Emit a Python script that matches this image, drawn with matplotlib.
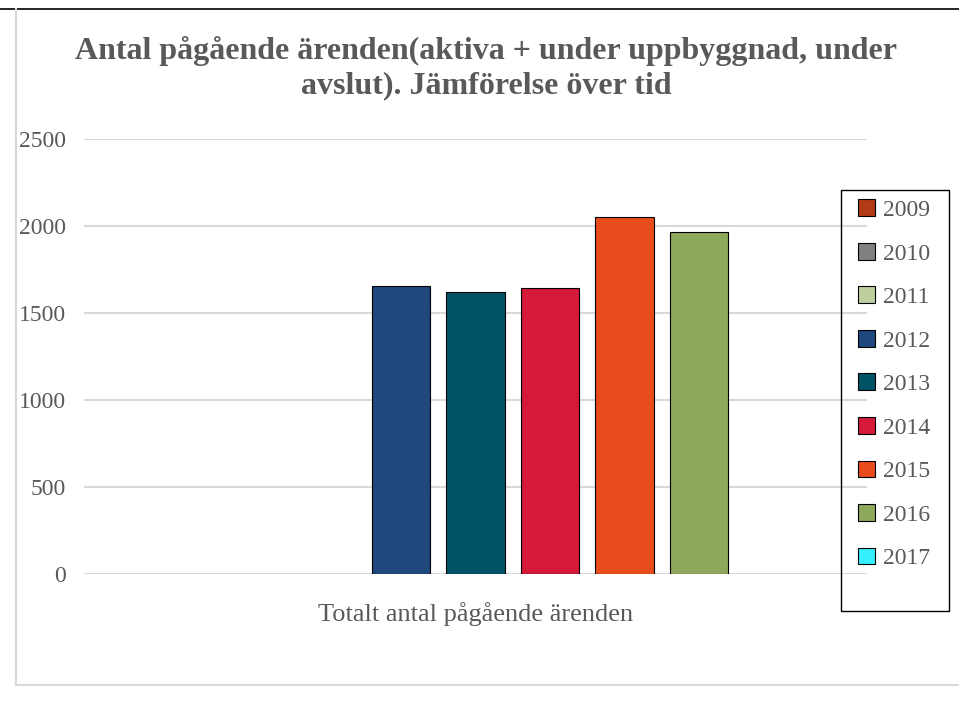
import matplotlib
matplotlib.use("Agg")
import matplotlib.pyplot as plt
from matplotlib.lines import Line2D
from matplotlib.patches import Patch, Rectangle
import numpy as np

# Data
years = ["2009", "2010", "2011", "2012", "2013", "2014", "2015", "2016", "2017"]
values = [0, 0, 0, 1657, 1622, 1644, 2051, 1967, 0]
colors = ["#B33A14", "#808080", "#BCCF9D", "#1F497D", "#005364",
          "#D41939", "#E84C1C", "#8EA95B", "#35EFFF"]
category = "Totalt antal pågående ärenden"
yticks = [0, 500, 1000, 1500, 2000, 2500]

TEXT = "#595959"
GRID = "#D9D9D9"
plt.rcParams["font.family"] = ["Liberation Serif", "DejaVu Serif"]

W, H = 959, 714
fig = plt.figure(figsize=(W / 100, H / 100), dpi=100)
ax = fig.add_axes([84 / W, 139.7 / H, 783 / W, 435.5 / H])

n = len(years)
offsets = np.arange(n) - (n - 1) / 2
for off, v, c, yr in zip(offsets, values, colors, years):
    ax.bar(off, v, width=0.79, color=c, edgecolor="black",
           linewidth=0.8 if v > 0 else 0, label=yr, zorder=3)

half = 783 / 74.5 / 2
ax.set_xlim(-half, half)
ax.set_ylim(0, 2500)
ax.set_yticks(yticks)
ax.set_yticklabels([str(t) for t in yticks], fontsize=17, color=TEXT)
ax.tick_params(axis="y", length=0, pad=13)
ax.set_xticks([0])
ax.set_xticklabels([category], fontsize=19, color=TEXT)
ax.tick_params(axis="x", length=0, pad=20)
ax.grid(axis="y", color=GRID, lw=1.5, zorder=0)
ax.set_axisbelow(True)
for s in ax.spines.values():
    s.set_visible(False)

# legend with patches so zero-valued years still show a swatch
handles = [Patch(facecolor=c, edgecolor="black", lw=0.8) for c in colors]
leg = fig.legend(handles, years, loc="upper left",
                 bbox_to_anchor=(849 / W, 1 - 190 / H),
                 fontsize=17, frameon=False,
                 handlelength=0.72, handleheight=0.72, handletextpad=0.3,
                 labelspacing=0.925, borderpad=0.4, borderaxespad=0)
for t in leg.get_texts():
    t.set_color(TEXT)
# legend box (larger than its content, as in the original)
fig.add_artist(Rectangle((841 / W, 1 - 611 / H), 108 / W, 421 / H,
                         transform=fig.transFigure, facecolor="none",
                         edgecolor="black", lw=1.0))

fig.text(486 / W, 1 - 68 / H,
         "Antal pågående ärenden(aktiva + under uppbyggnad, under\navslut). Jämförelse över tid",
         ha="center", va="center", fontsize=23, fontweight="bold",
         color=TEXT, linespacing=1.25)

# outer frame lines
fig.add_artist(Line2D([0, 1], [1 - 8.7 / H] * 2, color="black", lw=1.2,
                      transform=fig.transFigure))
fig.add_artist(Line2D([16 / W, 16 / W], [1 - 9 / H, 1 - 685 / H], color=GRID, lw=1.5,
                      transform=fig.transFigure))
fig.add_artist(Line2D([16 / W, 1], [1 - 685 / H] * 2, color=GRID, lw=1.5,
                      transform=fig.transFigure))

fig.savefig("out.png", dpi=100)
